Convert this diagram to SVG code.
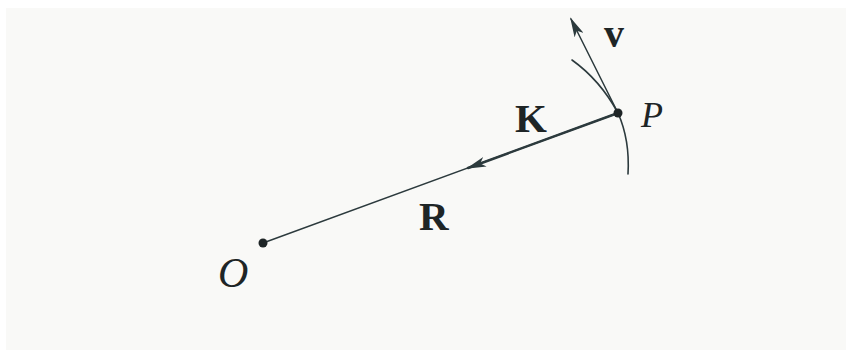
<svg xmlns="http://www.w3.org/2000/svg" width="854" height="358" viewBox="0 0 854 358">
<defs>
<style>
.ln{fill:none;stroke:#2c3a3d;stroke-linecap:round}
.lbl{font-family:"Liberation Serif","Times New Roman",serif;fill:#1e2526}
.b{font-weight:bold}
.i{font-style:italic}
</style>
<marker id="ah" viewBox="0 0 20 10" refX="18" refY="5" markerWidth="20" markerHeight="10" markerUnits="userSpaceOnUse" orient="auto">
<path d="M0,0 L20,5 L0,10 L5,5 Z" fill="#2c3a3d"/>
</marker>
</defs>
<rect width="854" height="358" fill="#ffffff"/>
<rect x="6" y="8" width="840" height="342" fill="#f9f9f7"/>
<g id="connectors">
<line class="ln" x1="618" y1="113" x2="263" y2="243" stroke-width="1.4"/>
<line class="ln" x1="618" y1="113" x2="468" y2="168" stroke-width="2.4" marker-end="url(#ah)"/>
<line class="ln" x1="618" y1="113" x2="571" y2="19" stroke-width="1.5" marker-end="url(#ah)"/>
<path class="ln" d="M572,60 Q600,80 618,113 Q630,140 628,174" stroke-width="1.6"/>
</g>
<g id="P">
<circle cx="618" cy="113" r="4.5" fill="#1e2526"/>
<text class="lbl i" x="641" y="127" font-size="36">P</text>
</g>
<g id="O">
<circle cx="263" cy="243" r="4.5" fill="#1e2526"/>
<text class="lbl i" x="218" y="287" font-size="42">O</text>
</g>
<g id="labels">
<text class="lbl b" x="604" y="47" font-size="40">v</text>
<text class="lbl b" x="515" y="132" font-size="41">K</text>
<text class="lbl b" x="419" y="230" font-size="41">R</text>
</g>
</svg>
